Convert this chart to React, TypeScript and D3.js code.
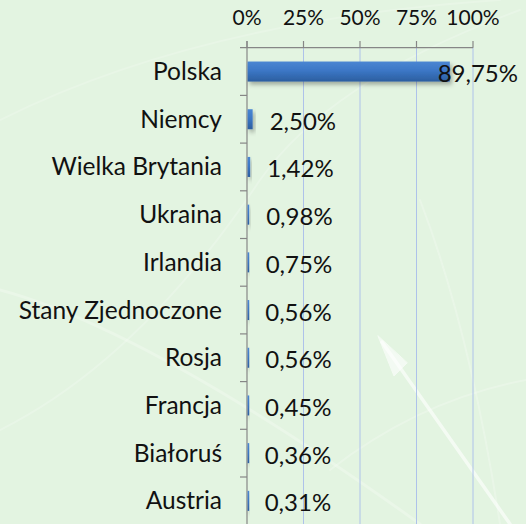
import React from "react";
import * as d3 from "d3";

const categories = [
  "Polska",
  "Niemcy",
  "Wielka Brytania",
  "Ukraina",
  "Irlandia",
  "Stany Zjednoczone",
  "Rosja",
  "Francja",
  "Białoruś",
  "Austria",
];
const values = [89.75, 2.5, 1.42, 0.98, 0.75, 0.56, 0.56, 0.45, 0.36, 0.31];
const ticks = [0, 25, 50, 75, 100];

const W = 526;
const H = 524;

export default function App() {
  const x = d3.scaleLinear().domain([0, 100]).range([247, 473]);
  const y = d3.scaleBand<string>().domain(categories).range([47.7, 47.7 + 477]).padding(0);
  const bw = y.bandwidth();
  const barH = bw * 0.42;
  const fmt = (v: number) => v.toFixed(2).replace(".", ",") + "%";
  const font = "Lato, 'Open Sans', sans-serif";
  const axisColor = "#868686";
  const gridColor = "#aec2ea";

  return (
    <svg
      width={W}
      height={H}
      style={{ position: "absolute", left: 0, top: 0, display: "block" }}
    >
      <defs>
        <linearGradient id="barGrad" x1="0" y1="0" x2="0" y2="1">
          <stop offset="0%" stopColor="#4a86d2" />
          <stop offset="45%" stopColor="#3c77c6" />
          <stop offset="100%" stopColor="#2c5e9f" />
        </linearGradient>
        <filter id="shadow" x="-50%" y="-50%" width="200%" height="220%">
          <feDropShadow dx="2" dy="3" stdDeviation="2" floodColor="#000" floodOpacity="0.3" />
        </filter>
      </defs>
      <rect x={0} y={0} width={W} height={H} fill="#e3f4e1" />
      {/* faint decorative streaks */}
      <g fill="none" stroke="#ffffff" strokeLinecap="round">
        <path d="M510,524 L382,342" strokeWidth={3.5} opacity={0.6} />
        <path d="M378,336 L394,376 L407,363 Z" fill="#ffffff" opacity={0.6} />
        <path d="M0,290 Q150,330 420,524" strokeWidth={3} opacity={0.25} />
        <path d="M0,430 Q140,360 260,180 Q330,80 520,10" strokeWidth={2} opacity={0.2} />
        <path d="M0,120 Q200,20 500,0" strokeWidth={2} opacity={0.18} />
        <path d="M420,200 Q470,330 500,524" strokeWidth={2} opacity={0.22} />
        <path d="M330,470 Q420,400 526,380" strokeWidth={2} opacity={0.22} />
      </g>
      {/* gridlines */}
      {ticks.slice(1).map((t) => (
        <line key={"g" + t} x1={x(t)} x2={x(t)} y1={47.7} y2={H} stroke={gridColor} strokeWidth={1} />
      ))}
      {/* top axis */}
      <line x1={240} x2={x(100)} y1={47.7} y2={47.7} stroke={axisColor} strokeWidth={1.2} />
      {ticks.map((t) => (
        <g key={"t" + t}>
          <line x1={x(t)} x2={x(t)} y1={41} y2={47.7} stroke={axisColor} strokeWidth={1.2} />
          <text
            x={x(t)}
            y={25}
            textAnchor="middle"
            fontFamily={font}
            fontSize={21}
            fill="#111"
          >
            {t + "%"}
          </text>
        </g>
      ))}
      {/* left axis */}
      <line x1={x(0)} x2={x(0)} y1={41} y2={H} stroke={axisColor} strokeWidth={1.2} />
      {categories.map((c) => (
        <line
          key={"lt" + c}
          x1={240}
          x2={x(0)}
          y1={(y(c) as number) + bw}
          y2={(y(c) as number) + bw}
          stroke={axisColor}
          strokeWidth={1.2}
        />
      ))}
      {/* bars */}
      {categories.map((c, i) => {
        const cy = (y(c) as number) + bw / 2;
        return (
          <rect
            key={"b" + c}
            x={x(0) + 0.6}
            y={cy - barH / 2}
            width={Math.max(1.6, x(values[i]) - x(0) - 0.6)}
            height={barH}
            fill="url(#barGrad)"
            filter="url(#shadow)"
          />
        );
      })}
      {/* category labels */}
      {categories.map((c) => (
        <text
          key={"c" + c}
          x={222}
          y={(y(c) as number) + bw / 2 + 8.5}
          textAnchor="end"
          fontFamily={font}
          fontSize={24.5}
          fill="#111"
        >
          {c}
        </text>
      ))}
      {/* value labels */}
      {categories.map((c, i) => {
        const label = fmt(values[i]);
        const est = label.length * 13;
        const xs = x(values[i]) + 17;
        const over = xs + est > W - 8;
        return (
          <text
            key={"v" + c}
            x={over ? W - 8 : xs}
            y={(y(c) as number) + bw / 2 + 10.5}
            textAnchor={over ? "end" : "start"}
            fontFamily={font}
            fontSize={24}
            fill="#111"
          >
            {label}
          </text>
        );
      })}
    </svg>
  );
}
